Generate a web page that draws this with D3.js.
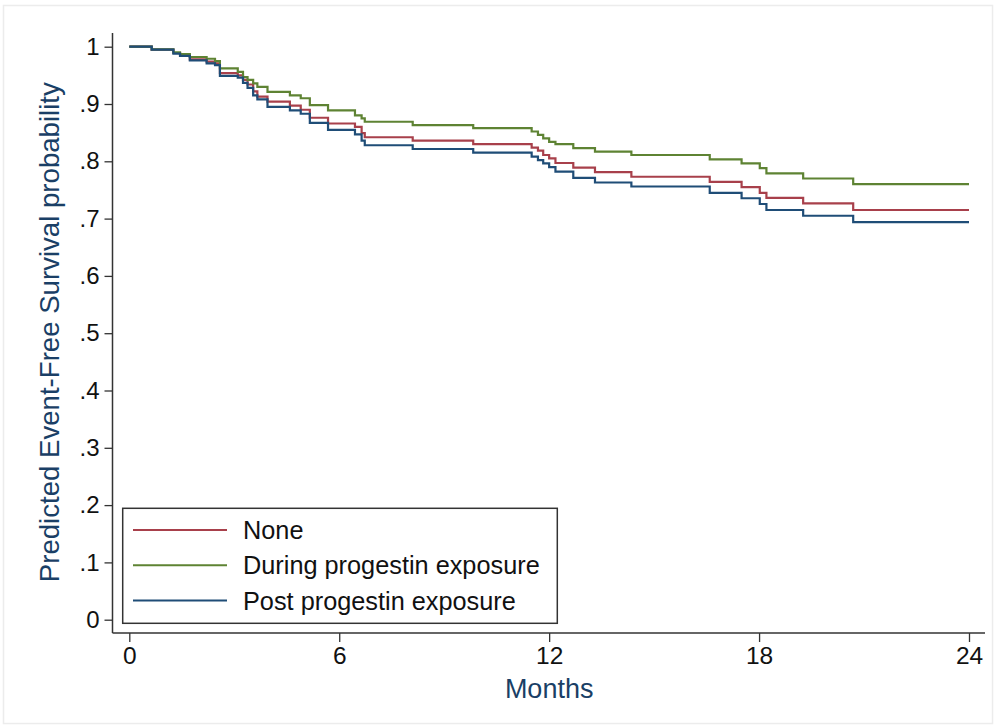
<!DOCTYPE html>
<html>
<head>
<meta charset="utf-8">
<script src="https://cdn.jsdelivr.net/npm/d3@7"></script>
<style>
  html, body { margin: 0; padding: 0; background: #fff; }
  svg { display: block; font-family: "Liberation Sans", Arial, sans-serif; }
</style>
</head>
<body>
<svg id="chart" width="997" height="728"></svg>
<script>
// ---- data ----
const months = [0, 0.64, 1.26, 1.45, 1.73, 2.21, 2.45, 2.59, 3.10, 3.25, 3.38, 3.54, 3.66, 3.95,
  4.59, 4.90, 5.16, 5.68, 6.45, 6.64, 6.73, 8.10, 9.83, 11.50, 11.68, 11.83, 12.00, 12.18,
  12.69, 13.31, 14.35, 16.59, 17.50, 18.02, 18.21, 19.26, 20.69, 24];
const survNone = [1.000, 0.995, 0.989, 0.985, 0.978, 0.974, 0.971, 0.954, 0.950, 0.942, 0.934, 0.922, 0.913, 0.904,
  0.897, 0.890, 0.876, 0.866, 0.860, 0.849, 0.842, 0.836, 0.830, 0.824, 0.8185, 0.811, 0.805, 0.797,
  0.789, 0.781, 0.773, 0.764, 0.755, 0.745, 0.736, 0.7265, 0.715, 0.715];
const survDuring = [1.000, 0.9955, 0.990, 0.987, 0.982, 0.979, 0.975, 0.962, 0.956, 0.947, 0.942, 0.936, 0.930, 0.921,
  0.915, 0.910, 0.898, 0.889, 0.880, 0.875, 0.869, 0.863, 0.858, 0.852, 0.846, 0.840, 0.834, 0.830,
  0.823, 0.817, 0.811, 0.8035, 0.7965, 0.788, 0.779, 0.770, 0.760, 0.760];
const survPost = [1.000, 0.995, 0.988, 0.984, 0.976, 0.971, 0.968, 0.949, 0.946, 0.937, 0.928, 0.915, 0.908, 0.895,
  0.889, 0.883, 0.867, 0.855, 0.847, 0.836, 0.828, 0.8215, 0.815, 0.808, 0.802, 0.7965, 0.790, 0.782,
  0.771, 0.763, 0.756, 0.745, 0.7355, 0.7255, 0.715, 0.705, 0.694, 0.694];
const seriesNames = ["None", "During progestin exposure", "Post progestin exposure"];
const seriesColors = ["#a8404b", "#5e8333", "#1f4d77"];
const xTicks = [0, 6, 12, 18, 24];
const xTickLabels = ["0", "6", "12", "18", "24"];
const yTicks = [0, 0.1, 0.2, 0.3, 0.4, 0.5, 0.6, 0.7, 0.8, 0.9, 1];
const yTickLabels = ["0", ".1", ".2", ".3", ".4", ".5", ".6", ".7", ".8", ".9", "1"];
const xTitle = "Months";
const yTitle = "Predicted Event-Free Survival probability";

// ---- layout ----
const svg = d3.select("#chart");
const x = d3.scaleLinear().domain([0, 24]).range([129.3, 969]);
const y = d3.scaleLinear().domain([0, 1]).range([619.7, 46.7]);
const axisX0 = 112.5, axisY0 = 633;
const titleColor = "#1a3f66";

// faint outer frame
svg.append("rect").attr("x", 3.5).attr("y", 5.5).attr("width", 989).attr("height", 718)
  .attr("fill", "#fff").attr("stroke", "#ececec").attr("stroke-width", 1.5);

// y axis
const yAxis = d3.axisLeft(y).tickValues(yTicks)
  .tickFormat((d, i) => yTickLabels[i]).tickSize(8).tickPadding(5);
const gy = svg.append("g").attr("transform", `translate(${axisX0},0)`).call(yAxis);
gy.select(".domain").remove();
gy.selectAll(".tick line").attr("stroke", "#333").attr("stroke-width", 1.3);
gy.selectAll(".tick text").attr("font-size", 24).attr("fill", "#111")
  .attr("font-family", "Liberation Sans, Arial, sans-serif");
svg.append("line").attr("x1", axisX0).attr("x2", axisX0).attr("y1", 33).attr("y2", axisY0)
  .attr("stroke", "#333").attr("stroke-width", 1.5);

// x axis
const xAxis = d3.axisBottom(x).tickValues(xTicks)
  .tickFormat((d, i) => xTickLabels[i]).tickSize(9).tickPadding(5);
const gx = svg.append("g").attr("transform", `translate(0,${axisY0})`).call(xAxis);
gx.select(".domain").remove();
gx.selectAll(".tick line").attr("stroke", "#333").attr("stroke-width", 1.3);
gx.selectAll(".tick text").attr("font-size", 24.5).attr("fill", "#111")
  .attr("font-family", "Liberation Sans, Arial, sans-serif");
svg.append("line").attr("x1", axisX0).attr("x2", 985).attr("y1", axisY0).attr("y2", axisY0)
  .attr("stroke", "#333").attr("stroke-width", 1.5);

// axis titles
svg.append("text").attr("x", x(12)).attr("y", 698).attr("text-anchor", "middle")
  .attr("font-size", 27).attr("fill", titleColor).text(xTitle);
svg.append("text").attr("transform", `translate(59,${(y(0) + y(1)) / 2 - 1}) rotate(-90)`)
  .attr("text-anchor", "middle").attr("font-size", 27.6).attr("fill", titleColor).text(yTitle);

// curves
const allSeries = [survNone, survDuring, survPost];
const line = d3.line().curve(d3.curveStepAfter)
  .x((d, i) => x(months[i])).y(d => y(d));
allSeries.forEach((vals, k) => {
  svg.append("path").datum(vals).attr("d", line)
    .attr("fill", "none").attr("stroke", seriesColors[k]).attr("stroke-width", 2.2);
});

// legend
const lg = svg.append("g");
lg.append("rect").attr("x", 122.7).attr("y", 508.3).attr("width", 434.6).attr("height", 115)
  .attr("fill", "#fff").attr("stroke", "#333").attr("stroke-width", 1.5);
seriesNames.forEach((name, k) => {
  const cy = 530 + k * 35.3;
  lg.append("line").attr("x1", 133).attr("x2", 227).attr("y1", cy).attr("y2", cy)
    .attr("stroke", seriesColors[k]).attr("stroke-width", 2);
  lg.append("text").attr("x", 243).attr("y", cy + 9).attr("font-size", 25.3)
    .attr("fill", "#111").text(name);
});
</script>
</body>
</html>
